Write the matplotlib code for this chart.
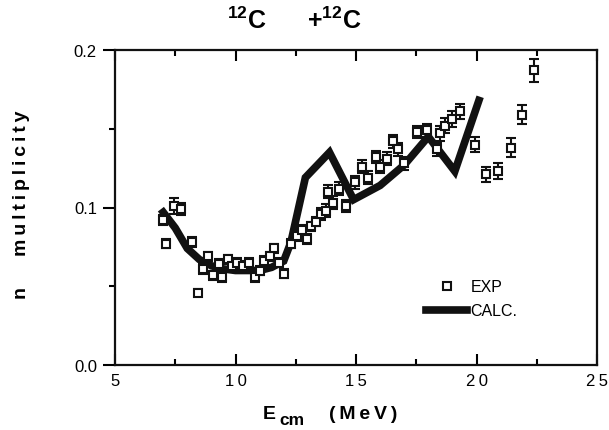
import matplotlib
matplotlib.use("Agg")
import matplotlib.pyplot as plt
from matplotlib.lines import Line2D
from matplotlib.ticker import MultipleLocator

plt.rcParams['font.family'] = ['Liberation Sans', 'DejaVu Sans']
plt.rcParams['mathtext.fontset'] = 'custom'
plt.rcParams['mathtext.rm'] = 'Liberation Sans:bold'
plt.rcParams['mathtext.bf'] = 'Liberation Sans:bold'
plt.rcParams['mathtext.it'] = 'Liberation Sans:bold'
plt.rcParams['mathtext.default'] = 'bf'

# Experimental data
exp_x = [7.0, 7.1, 7.45, 7.75, 8.2, 8.45, 8.65, 8.85, 9.05, 9.3, 9.45, 9.7, 9.85,
         10.05, 10.3, 10.55, 10.8, 11.0, 11.2, 11.45, 11.6, 11.8, 12.0, 12.3,
         12.55, 12.75, 12.95, 13.15, 13.35, 13.55, 13.75, 13.85, 14.05, 14.3,
         14.6, 14.95, 15.25, 15.5, 15.85, 16.0, 16.3, 16.55, 16.75, 17.0, 17.55,
         17.95, 18.35, 18.5, 18.7, 19.0, 19.3, 19.95, 20.4, 20.9, 21.45, 21.9, 22.4]
exp_y = [0.092, 0.077, 0.101, 0.099, 0.078, 0.046, 0.061, 0.069, 0.057, 0.064,
         0.056, 0.067, 0.063, 0.065, 0.063, 0.065, 0.056, 0.060, 0.066, 0.069,
         0.074, 0.065, 0.058, 0.077, 0.082, 0.086, 0.080, 0.088, 0.091, 0.096,
         0.098, 0.110, 0.103, 0.112, 0.101, 0.116, 0.126, 0.119, 0.132, 0.126,
         0.131, 0.142, 0.137, 0.128, 0.148, 0.149, 0.137, 0.147, 0.152, 0.156,
         0.161, 0.140, 0.121, 0.123, 0.138, 0.159, 0.187]
exp_err = [0.003, 0.003, 0.005, 0.004, 0.003, 0.002, 0.003, 0.003, 0.003, 0.003,
           0.003, 0.003, 0.003, 0.003, 0.003, 0.003, 0.003, 0.003, 0.003, 0.003,
           0.003, 0.003, 0.003, 0.003, 0.003, 0.003, 0.003, 0.003, 0.003, 0.004,
           0.004, 0.004, 0.004, 0.004, 0.004, 0.004, 0.004, 0.004, 0.004, 0.004,
           0.004, 0.004, 0.004, 0.004, 0.004, 0.004, 0.004, 0.005, 0.005, 0.005,
           0.005, 0.005, 0.005, 0.005, 0.006, 0.006, 0.007]

# Calculation
calc_x = [7.0, 7.5, 8.0, 8.5, 9.0, 9.5, 10.0, 10.5, 11.0, 11.5, 12.0, 12.3,
          12.9, 13.9, 14.9, 16.0, 17.0, 18.0, 19.1, 20.1]
calc_y = [0.097, 0.087, 0.074, 0.067, 0.063, 0.061, 0.060, 0.060, 0.060, 0.062,
          0.066, 0.078, 0.119, 0.135, 0.105, 0.114, 0.127, 0.145, 0.123, 0.168]

x_ticks = [5, 10, 15, 20, 25]
y_ticks = [0.0, 0.1, 0.2]
y_ticklabels = ['0.0', '0.1', '0.2']

TS = '\u2009'

def spaced(s):
    return TS.join(s)

fig = plt.figure(figsize=(6.09, 4.31), dpi=100)
ax = fig.add_axes([115/609, 1-366/431, (597-115)/609, (366-51)/431])

ax.plot(calc_x, calc_y, color='#111111', lw=5.5, solid_joinstyle='miter', zorder=3)
ax.errorbar(exp_x, exp_y, yerr=exp_err, fmt='s', mfc='white', mec='#111111',
            ecolor='#111111', ms=6, mew=1.5, elinewidth=1.5, capsize=3.5,
            capthick=1.5, zorder=4)

ax.set_xlim(5, 25)
ax.set_ylim(0, 0.2)
ax.set_xticks(x_ticks)
ax.set_xticklabels([spaced(str(t)) for t in x_ticks])
ax.xaxis.set_minor_locator(MultipleLocator(2.5))
ax.set_yticks(y_ticks)
ax.set_yticklabels(y_ticklabels)
ax.yaxis.set_minor_locator(MultipleLocator(0.05))
ax.tick_params(axis='x', which='both', direction='in', top=True, bottom=True,
               width=1.5, labelsize=12, pad=6)
ax.tick_params(axis='x', which='major', length=8)
ax.tick_params(axis='x', which='minor', length=4)
ax.tick_params(axis='y', which='both', direction='out', left=True, right=False,
               width=1.5, labelsize=12, pad=4)
ax.tick_params(axis='y', which='major', length=9)
ax.tick_params(axis='y', which='minor', length=4)
for s in ax.spines.values():
    s.set_linewidth(1.6)
    s.set_color('#111111')

fig.text(22/609, 1-205/431, 'n' + TS*8 + spaced('multiplicity'), fontsize=14,
         fontweight='bold', rotation=90, ha='center', va='center')

# x-axis label: E_cm (MeV)
fig.text(263/609, 1-415/431, 'E', fontsize=14, fontweight='bold',
         ha='left', va='center')
fig.text(279/609, 1-421/431, 'cm', fontsize=12.5, fontweight='bold',
         ha='left', va='center')
fig.text(329/609, 1-415/431, spaced('(MeV)'), fontsize=14, fontweight='bold',
         ha='left', va='center')

fig.text(294/609, 1-21/431, r'$^{12}$C      +$^{12}$C', fontsize=18,
         fontweight='bold', ha='center', va='center')

h_exp = Line2D([], [], ls='none', marker='s', mfc='white', mec='#111111', ms=6, mew=1.5)
h_calc = Line2D([], [], color='#111111', lw=5.5)
ax.legend([h_exp, h_calc], ['EXP', 'CALC.'], loc='center', bbox_to_anchor=(0.74, 0.21),
          frameon=False, fontsize=11.5, handlelength=2.6, handletextpad=0.2,
          labelspacing=0.55)

fig.savefig('out.png', dpi=100)
